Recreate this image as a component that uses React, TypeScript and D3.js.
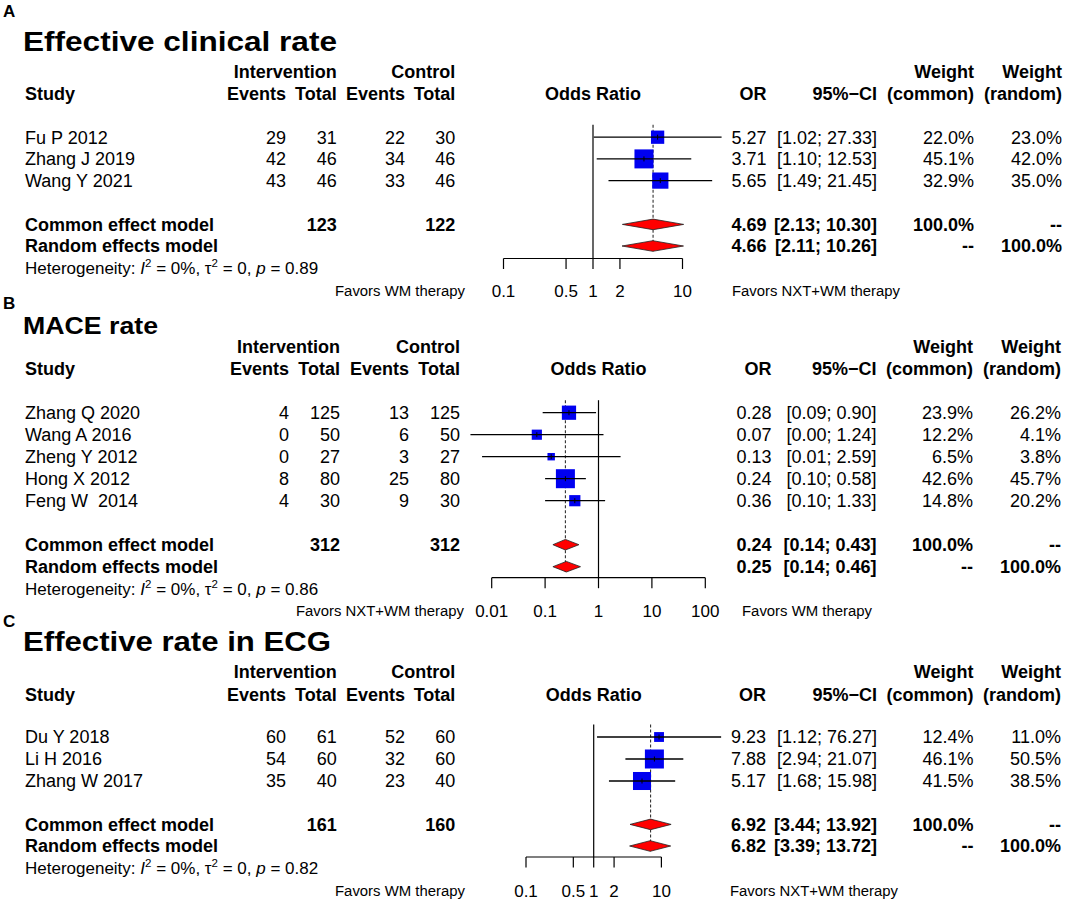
import React from "react";
import * as d3 from "d3";

// ---------- Panel A: Effective clinical rate ----------
const aStudies = ["Fu P 2012", "Zhang J 2019", "Wang Y 2021"];
const aEvInt = [29, 42, 43];
const aTotInt = [31, 46, 46];
const aEvCtl = [22, 34, 33];
const aTotCtl = [30, 46, 46];
const aOR = [5.27, 3.71, 5.65];
const aLo = [1.02, 1.10, 1.49];
const aHi = [27.33, 12.53, 21.45];
const aWCommon = [22.0, 45.1, 32.9];
const aWRandom = [23.0, 42.0, 35.0];
const aCommon = [4.69, 2.13, 10.30];
const aRandom = [4.66, 2.11, 10.26];
const aTotals = [123, 122];
const aHetP = "0.89";
const aTicks = [0.1, 0.5, 1, 2, 10];

// ---------- Panel B: MACE rate ----------
const bStudies = ["Zhang Q 2020", "Wang A 2016", "Zheng Y 2012", "Hong X 2012", "Feng W  2014"];
const bEvInt = [4, 0, 0, 8, 4];
const bTotInt = [125, 50, 27, 80, 30];
const bEvCtl = [13, 6, 3, 25, 9];
const bTotCtl = [125, 50, 27, 80, 30];
const bOR = [0.28, 0.07, 0.13, 0.24, 0.36];
const bLo = [0.09, 0.004, 0.0066, 0.10, 0.10];
const bHi = [0.90, 1.24, 2.59, 0.58, 1.33];
const bWCommon = [23.9, 12.2, 6.5, 42.6, 14.8];
const bWRandom = [26.2, 4.1, 3.8, 45.7, 20.2];
const bCommon = [0.24, 0.14, 0.43];
const bRandom = [0.25, 0.14, 0.46];
const bTotals = [312, 312];
const bHetP = "0.86";
const bTicks = [0.01, 0.1, 1, 10, 100];

// ---------- Panel C: Effective rate in ECG ----------
const cStudies = ["Du Y 2018", "Li H 2016", "Zhang W 2017"];
const cEvInt = [60, 54, 35];
const cTotInt = [61, 60, 40];
const cEvCtl = [52, 32, 23];
const cTotCtl = [60, 60, 40];
const cOR = [9.23, 7.88, 5.17];
const cLo = [1.12, 2.94, 1.68];
const cHi = [76.27, 21.07, 15.98];
const cWCommon = [12.4, 46.1, 41.5];
const cWRandom = [11.0, 50.5, 38.5];
const cCommon = [6.92, 3.44, 13.92];
const cRandom = [6.82, 3.39, 13.72];
const cTotals = [161, 160];
const cHetP = "0.82";
const cTicks = [0.1, 0.5, 1, 2, 10];

const FONT = "'Liberation Sans', Arial, Helvetica, sans-serif";
const FS = 18;

type PanelProps = {
  letter: string;
  title: string;
  titleSize: number;
  titleWidth: number;
  letterY: number;
  titleY: number;
  h1Y: number;
  h2Y: number;
  rowY0: number;
  rowStep: number;
  commonY: number;
  randomY: number;
  hetY: number;
  axisY: number;
  tickLabelY: number;
  cols: number[];
  orX: number;
  ciX: number;
  wcX: number;
  wrX: number;
  nullX: number;
  ppd: number;
  ticks: number[];
  studies: string[];
  evInt: number[];
  totInt: number[];
  evCtl: number[];
  totCtl: number[];
  or: number[];
  lo: number[];
  hi: number[];
  wc: number[];
  wr: number[];
  common: number[];
  random: number[];
  totals: number[];
  hetP: string;
  leftLabel: string;
  rightLabel: string;
  leftLabelEnd: number;
  rightLabelStart: number;
};

const f2 = (v: number) => v.toFixed(2);
const f1 = (v: number) => v.toFixed(1) + "%";

function Panel(p: PanelProps) {
  const dmin = p.ticks[0];
  const dmax = p.ticks[p.ticks.length - 1];
  const x = d3
    .scaleLog()
    .domain([dmin, dmax])
    .range([p.nullX + Math.log10(dmin) * p.ppd, p.nullX + Math.log10(dmax) * p.ppd]);
  const rowBase = p.studies.map((_, i) => p.rowY0 + i * p.rowStep);
  const mid = (b: number) => b - 6.3;
  const wmax = d3.max(p.wc) as number;
  const maxSide = 19;
  const topY = mid(rowBase[0]) - 12.5;
  const dh = 5.3;
  const diamond = (vals: number[], y: number) => {
    const [m, l, h] = vals;
    return `M${x(l)},${y} L${x(m)},${y - dh} L${x(h)},${y} L${x(m)},${y + dh} Z`;
  };
  const leftLen = p.leftLabel.length > 18 ? 168 : 130;
  const rightLen = p.rightLabel.length > 18 ? 168 : 130;
  return (
    <g>
      <text x={3} y={p.letterY} fontSize={17} fontWeight="bold">{p.letter}</text>
      <text
        x={23}
        y={p.titleY}
        fontSize={p.titleSize}
        fontWeight="bold"
        textLength={p.titleWidth}
        lengthAdjust="spacingAndGlyphs"
      >
        {p.title}
      </text>
      {/* headers */}
      <g fontWeight="bold" fontSize={FS}>
        <text x={p.cols[1]} y={p.h1Y} textAnchor="end">Intervention</text>
        <text x={p.cols[3]} y={p.h1Y} textAnchor="end">Control</text>
        <text x={p.wcX} y={p.h1Y} textAnchor="end">Weight</text>
        <text x={p.wrX} y={p.h1Y} textAnchor="end">Weight</text>
        <text x={25} y={p.h2Y}>Study</text>
        <text x={p.cols[0]} y={p.h2Y} textAnchor="end">Events</text>
        <text x={p.cols[1]} y={p.h2Y} textAnchor="end">Total</text>
        <text x={p.cols[2]} y={p.h2Y} textAnchor="end">Events</text>
        <text x={p.cols[3]} y={p.h2Y} textAnchor="end">Total</text>
        <text x={p.nullX} y={p.h2Y} textAnchor="middle">Odds Ratio</text>
        <text x={p.orX} y={p.h2Y} textAnchor="end">OR</text>
        <text x={p.ciX} y={p.h2Y} textAnchor="end">95%−CI</text>
        <text x={p.wcX} y={p.h2Y} textAnchor="end">(common)</text>
        <text x={p.wrX} y={p.h2Y} textAnchor="end">(random)</text>
      </g>
      {/* study rows */}
      <g fontSize={FS}>
        {p.studies.map((s, i) => (
          <g key={s}>
            <text x={25} y={rowBase[i]} xmlSpace="preserve">{s}</text>
            <text x={p.cols[0]} y={rowBase[i]} textAnchor="end">{p.evInt[i]}</text>
            <text x={p.cols[1]} y={rowBase[i]} textAnchor="end">{p.totInt[i]}</text>
            <text x={p.cols[2]} y={rowBase[i]} textAnchor="end">{p.evCtl[i]}</text>
            <text x={p.cols[3]} y={rowBase[i]} textAnchor="end">{p.totCtl[i]}</text>
            <text x={p.orX} y={rowBase[i]} textAnchor="end">{f2(p.or[i])}</text>
            <text x={p.ciX} y={rowBase[i]} textAnchor="end">{`[${f2(p.lo[i])}; ${f2(p.hi[i])}]`}</text>
            <text x={p.wcX} y={rowBase[i]} textAnchor="end">{f1(p.wc[i])}</text>
            <text x={p.wrX} y={rowBase[i]} textAnchor="end">{f1(p.wr[i])}</text>
          </g>
        ))}
      </g>
      {/* pooled rows */}
      <g fontSize={FS} fontWeight="bold">
        <text x={25} y={p.commonY}>Common effect model</text>
        <text x={p.cols[1]} y={p.commonY} textAnchor="end">{p.totals[0]}</text>
        <text x={p.cols[3]} y={p.commonY} textAnchor="end">{p.totals[1]}</text>
        <text x={p.orX} y={p.commonY} textAnchor="end">{f2(p.common[0])}</text>
        <text x={p.ciX} y={p.commonY} textAnchor="end">{`[${f2(p.common[1])}; ${f2(p.common[2])}]`}</text>
        <text x={p.wcX} y={p.commonY} textAnchor="end">100.0%</text>
        <text x={p.wrX} y={p.commonY} textAnchor="end">--</text>
        <text x={25} y={p.randomY}>Random effects model</text>
        <text x={p.orX} y={p.randomY} textAnchor="end">{f2(p.random[0])}</text>
        <text x={p.ciX} y={p.randomY} textAnchor="end">{`[${f2(p.random[1])}; ${f2(p.random[2])}]`}</text>
        <text x={p.wcX} y={p.randomY} textAnchor="end">--</text>
        <text x={p.wrX} y={p.randomY} textAnchor="end">100.0%</text>
      </g>
      <text x={25} y={p.hetY} fontSize={17}>
        Heterogeneity: <tspan fontStyle="italic">I</tspan>
        <tspan fontSize={11.5} dy={-7}>2</tspan>
        <tspan dy={7}> = 0%, τ</tspan>
        <tspan fontSize={11.5} dy={-7}>2</tspan>
        <tspan dy={7}> = 0, </tspan>
        <tspan fontStyle="italic">p</tspan>
        <tspan>{` = ${p.hetP}`}</tspan>
      </text>
      {/* forest plot */}
      <line x1={x(1)} x2={x(1)} y1={topY} y2={p.axisY} stroke="#000" strokeWidth={1.2} />
      <line
        x1={x(p.common[0])}
        x2={x(p.common[0])}
        y1={topY}
        y2={mid(p.randomY) + dh}
        stroke="#333"
        strokeWidth={1.1}
        strokeDasharray="3,2"
      />
      {p.studies.map((s, i) => {
        const side = maxSide * Math.sqrt(p.wc[i] / wmax);
        const cy = mid(rowBase[i]);
        const cx = x(p.or[i]);
        return (
          <g key={"f" + s}>
            <rect x={cx - side / 2} y={cy - side / 2} width={side} height={side} fill="#0000f0" />
            <line x1={x(p.lo[i])} x2={x(p.hi[i])} y1={cy} y2={cy} stroke="#000" strokeWidth={1.3} />
            <line x1={cx} x2={cx} y1={cy - 2.5} y2={cy + 2.5} stroke="#000" strokeWidth={1} />
          </g>
        );
      })}
      <path d={diamond(p.common, mid(p.commonY))} fill="#ff0000" stroke="#222" strokeWidth={0.8} />
      <path d={diamond(p.random, mid(p.randomY))} fill="#ff0000" stroke="#222" strokeWidth={0.8} />
      {/* axis */}
      <line x1={x(dmin)} x2={x(dmax)} y1={p.axisY} y2={p.axisY} stroke="#000" strokeWidth={1.2} />
      {p.ticks.map((t) => (
        <g key={"t" + t}>
          <line x1={x(t)} x2={x(t)} y1={p.axisY} y2={p.axisY + 10.5} stroke="#000" strokeWidth={1.2} />
          <text x={x(t)} y={p.tickLabelY} fontSize={17} textAnchor="middle">{String(t)}</text>
        </g>
      ))}
      <text
        x={p.leftLabelEnd - leftLen}
        y={p.tickLabelY - 1}
        fontSize={15.5}
        textLength={leftLen}
        lengthAdjust="spacingAndGlyphs"
      >
        {p.leftLabel}
      </text>
      <text
        x={p.rightLabelStart}
        y={p.tickLabelY - 1}
        fontSize={15.5}
        textLength={rightLen}
        lengthAdjust="spacingAndGlyphs"
      >
        {p.rightLabel}
      </text>
    </g>
  );
}

export default function App() {
  return (
    <svg
      width={1065}
      height={902}
      style={{ position: "absolute", left: 0, top: 0, background: "#fff" }}
      fontFamily={FONT}
      fill="#000"
    >
      <rect width={1065} height={902} fill="#fff" />
      <Panel
        letter="A"
        title="Effective clinical rate"
        titleSize={27}
        titleWidth={314}
        letterY={17}
        titleY={51}
        h1Y={78}
        h2Y={100}
        rowY0={143.5}
        rowStep={21.7}
        commonY={230.7}
        randomY={252.3}
        hetY={274}
        axisY={258.5}
        tickLabelY={297}
        cols={[286, 336.7, 405, 455.3]}
        orX={766.5}
        ciX={877}
        wcX={974}
        wrX={1062}
        nullX={593}
        ppd={89.5}
        ticks={aTicks}
        studies={aStudies}
        evInt={aEvInt}
        totInt={aTotInt}
        evCtl={aEvCtl}
        totCtl={aTotCtl}
        or={aOR}
        lo={aLo}
        hi={aHi}
        wc={aWCommon}
        wr={aWRandom}
        common={aCommon}
        random={aRandom}
        totals={aTotals}
        hetP={aHetP}
        leftLabel="Favors WM therapy"
        rightLabel="Favors NXT+WM therapy"
        leftLabelEnd={465}
        rightLabelStart={732}
      />
      <Panel
        letter="B"
        title="MACE rate"
        titleSize={23}
        titleWidth={135}
        letterY={309}
        titleY={334}
        h1Y={353}
        h2Y={375}
        rowY0={419}
        rowStep={22}
        commonY={551}
        randomY={573}
        hetY={595}
        axisY={577.7}
        tickLabelY={617}
        cols={[289, 340, 409, 460]}
        orX={771.5}
        ciX={876.5}
        wcX={973}
        wrX={1061}
        nullX={598.5}
        ppd={53.4}
        ticks={bTicks}
        studies={bStudies}
        evInt={bEvInt}
        totInt={bTotInt}
        evCtl={bEvCtl}
        totCtl={bTotCtl}
        or={bOR}
        lo={bLo}
        hi={bHi}
        wc={bWCommon}
        wr={bWRandom}
        common={bCommon}
        random={bRandom}
        totals={bTotals}
        hetP={bHetP}
        leftLabel="Favors NXT+WM therapy"
        rightLabel="Favors WM therapy"
        leftLabelEnd={464}
        rightLabelStart={742}
      />
      <Panel
        letter="C"
        title="Effective rate in ECG"
        titleSize={27}
        titleWidth={308}
        letterY={627}
        titleY={651}
        h1Y={678}
        h2Y={701}
        rowY0={743.3}
        rowStep={22}
        commonY={830.7}
        randomY={852.3}
        hetY={874.3}
        axisY={857}
        tickLabelY={897}
        cols={[286, 336.7, 405, 455.3]}
        orX={766}
        ciX={877}
        wcX={973.5}
        wrX={1061}
        nullX={593.7}
        ppd={67.7}
        ticks={cTicks}
        studies={cStudies}
        evInt={cEvInt}
        totInt={cTotInt}
        evCtl={cEvCtl}
        totCtl={cTotCtl}
        or={cOR}
        lo={cLo}
        hi={cHi}
        wc={cWCommon}
        wr={cWRandom}
        common={cCommon}
        random={cRandom}
        totals={cTotals}
        hetP={cHetP}
        leftLabel="Favors WM therapy"
        rightLabel="Favors NXT+WM therapy"
        leftLabelEnd={465}
        rightLabelStart={730}
      />
    </svg>
  );
}
